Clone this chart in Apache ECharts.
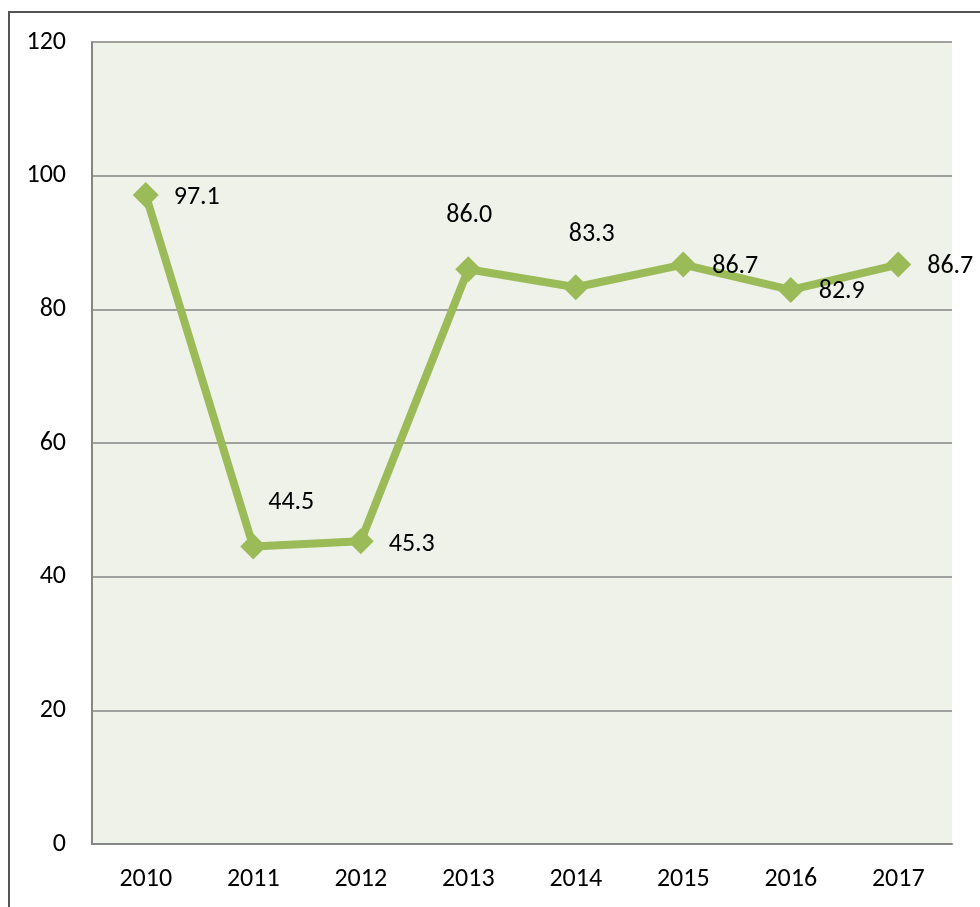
<!DOCTYPE html>
<html>
<head>
<meta charset="utf-8">
<script src="https://cdn.jsdelivr.net/npm/echarts@6/dist/echarts.min.js"></script>
<style>
  html, body { margin: 0; padding: 0; background: #ffffff; }
  #chart { width: 980px; height: 907px; }
</style>
</head>
<body>
<div id="chart"></div>
<script>
// Yearly values, 2010–2017
const years = ['2010', '2011', '2012', '2013', '2014', '2015', '2016', '2017'];
const values = [97.1, 44.5, 45.3, 86.0, 83.3, 86.7, 82.9, 86.7];
const yTicks = [0, 20, 40, 60, 80, 100, 120];

// Where each value label sits relative to its point (px)
const labelOffsets = [[51, 2], [38, -44], [51, 3], [1, -54], [16, -53], [52, 2], [51, 2], [52, 2]];

const FONT = 'Carlito, "Open Sans", Lato, sans-serif';
const FONT_SIZE = 26;
const chart = echarts.init(document.getElementById('chart'), null, { renderer: 'canvas' });

chart.setOption({
  animation: false,
  backgroundColor: '#ffffff',
  graphic: [{
    type: 'rect',
    silent: true,
    z: -10,
    shape: { x: 9, y: 12, width: 1100, height: 1100 },
    style: { fill: 'none', stroke: '#555555', lineWidth: 2 }
  }],
  grid: {
    left: 92, right: 28, top: 42, bottom: 63,
    show: true, backgroundColor: '#EFF2E9', borderWidth: 0
  },
  xAxis: {
    type: 'category',
    data: years,
    boundaryGap: true,
    axisLine: { show: true, lineStyle: { color: '#868686', width: 2 } },
    axisTick: { show: false },
    axisLabel: { color: '#000000', fontSize: FONT_SIZE, fontFamily: FONT, margin: 22 },
    splitLine: { show: false }
  },
  yAxis: {
    type: 'value',
    min: yTicks[0],
    max: yTicks[yTicks.length - 1],
    interval: yTicks[1] - yTicks[0],
    axisLine: { show: true, lineStyle: { color: '#868686', width: 2 } },
    axisTick: { show: false },
    axisLabel: { color: '#000000', fontSize: FONT_SIZE, fontFamily: FONT, margin: 26 },
    splitLine: { show: true, lineStyle: { color: '#868686', width: 1.5 } }
  },
  series: [{
    type: 'line',
    data: values.map((v, i) => ({
      value: v,
      label: { offset: labelOffsets[i] }
    })),
    symbol: 'diamond',
    symbolSize: 26,
    lineStyle: { color: '#9BBB59', width: 8 },
    itemStyle: { color: '#9BBB59' },
    label: {
      show: true,
      position: 'inside',
      formatter: p => p.value.toFixed(1),
      color: '#000000',
      fontSize: FONT_SIZE,
      fontFamily: FONT
    }
  }]
});
</script>
</body>
</html>
